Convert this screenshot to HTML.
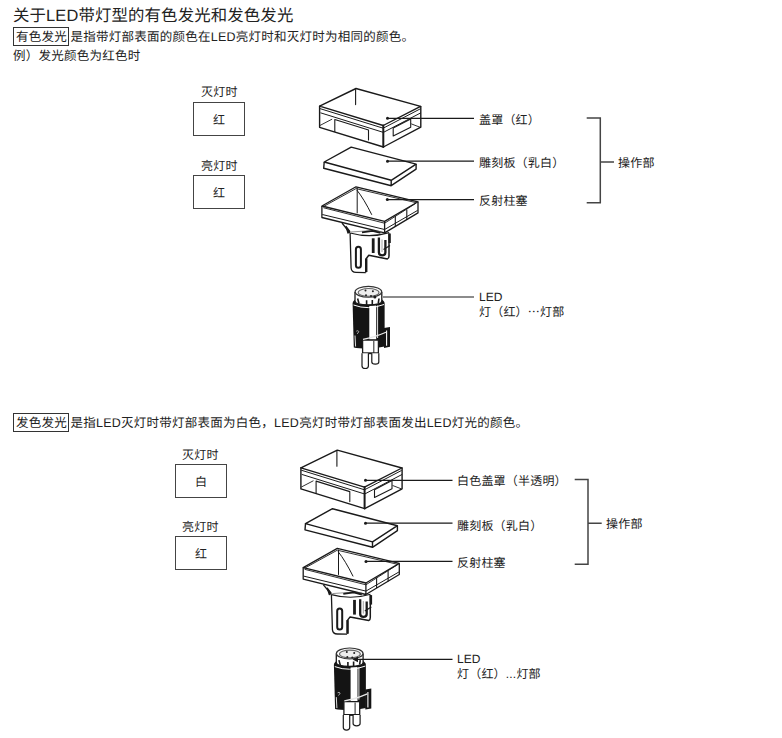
<!DOCTYPE html>
<html lang="zh-CN">
<head>
<meta charset="utf-8">
<style>
html,body{margin:0;padding:0;background:#fff;}
body{text-rendering:geometricPrecision;width:782px;height:738px;position:relative;overflow:hidden;font-family:"Liberation Sans",sans-serif;color:#222;}
.t{position:absolute;white-space:nowrap;line-height:1;}
.lb{letter-spacing:0.2px;}
.kb{border:1px solid #333;padding:2px 1px 1px 2px;margin-right:1.5px;}
.bx{position:absolute;border:1.3px solid #444;box-sizing:border-box;}
</style>
</head>
<body>
<div class="t" id="title" style="left:13px;top:8px;font-size:16.4px;letter-spacing:0.15px;">关于LED带灯型的有色发光和发色发光</div>
<div class="t" id="l2" style="left:13px;top:31px;font-size:12.5px;letter-spacing:0.25px;"><span class="kb">有色发光</span>是指带灯部表面的颜色在LED亮灯时和灭灯时为相同的颜色。</div>
<div class="t" id="l3" style="left:13px;top:50px;font-size:12.5px;letter-spacing:0.25px;">例）发光颜色为红色时</div>

<div class="t lb" style="left:201px;top:86px;font-size:12px;">灭灯时</div>
<div class="bx" style="left:193px;top:102px;width:52px;height:34px;"></div>
<div class="t" style="left:213px;top:114px;font-size:12px;">红</div>
<div class="t lb" style="left:201px;top:160px;font-size:12px;">亮灯时</div>
<div class="bx" style="left:193px;top:175px;width:52px;height:34px;"></div>
<div class="t" style="left:213px;top:187px;font-size:12px;">红</div>

<div class="t lb" style="left:479px;top:114px;font-size:12px;">盖罩（红）</div>
<div class="t lb" style="left:479px;top:157px;font-size:12px;">雕刻板（乳白）</div>
<div class="t lb" style="left:479px;top:195px;font-size:12px;">反射柱塞</div>
<div class="t lb" style="left:618px;top:157px;font-size:12px;">操作部</div>
<div class="t" style="left:479px;top:291px;font-size:12px;">LED</div>
<div class="t lb" style="left:479px;top:306px;font-size:12px;">灯（红）⋯灯部</div>

<div class="t" id="l4" style="left:13px;top:417px;font-size:12.5px;letter-spacing:0.25px;"><span class="kb">发色发光</span>是指LED灭灯时带灯部表面为白色，LED亮灯时带灯部表面发出LED灯光的颜色。</div>

<div class="t lb" style="left:182px;top:449px;font-size:12px;">灭灯时</div>
<div class="bx" style="left:175px;top:464px;width:52px;height:34px;"></div>
<div class="t" style="left:195px;top:476px;font-size:12px;">白</div>
<div class="t lb" style="left:182px;top:521px;font-size:12px;">亮灯时</div>
<div class="bx" style="left:175px;top:536px;width:52px;height:34px;"></div>
<div class="t" style="left:195px;top:548px;font-size:12px;">红</div>

<div class="t lb" style="left:457px;top:475px;font-size:12px;">白色盖罩（半透明）</div>
<div class="t lb" style="left:457px;top:520px;font-size:12px;">雕刻板（乳白）</div>
<div class="t lb" style="left:457px;top:557px;font-size:12px;">反射柱塞</div>
<div class="t lb" style="left:606px;top:518px;font-size:12px;">操作部</div>
<div class="t" style="left:457px;top:653px;font-size:12px;">LED</div>
<div class="t lb" style="left:457px;top:668px;font-size:12px;">灯（红）...灯部</div>

<svg width="782" height="738" style="position:absolute;left:0;top:0;" id="svg">
<defs>
<g id="dwg">
<!-- COVER -->
<g fill="none" stroke="#1a1a1a" stroke-width="1.4" stroke-linejoin="round" stroke-linecap="round">
<path d="M319.6 106.2L356 88.5L420.6 106.4L383.2 125.5Z" fill="#fff"/>
<path d="M319.6 106.2V127.3L383.4 147L420.8 127.2V106.4"/>
<path d="M383.3 125.5V147" stroke-width="2"/>
<path d="M320.3 108.7L383.2 128.2L420 109" stroke-width="1"/>
<path d="M320.8 112.9L383.4 132.4L420.5 113" stroke-width="1"/>
<path d="M355.6 89.5V104.6" stroke-width="1.1"/>
<path d="M334.8 119.5V131.5M334.8 119.5L368.5 130V140" stroke-width="1.1"/>
<path d="M320.3 125.3L331.8 119.3" stroke-width="0.9"/>
<path d="M393.2 128.1L410.7 118.9V127.2L393.2 135.9Z" stroke-width="1.1"/>
<path d="M411.6 124L419.9 127.2" stroke-width="0.9"/>
</g>
<!-- PLATE -->
<g fill="none" stroke="#1a1a1a" stroke-width="1.4" stroke-linejoin="round">
<path d="M324.2 162L351.2 147.1L416.1 164.1L391.2 180.3Z" fill="#fff"/>
<path d="M324.2 162L323.7 168.3L391.2 185.7L416.1 169.1V164.1M391.2 180.3V185.7"/>
</g>
<!-- REFLECTOR -->
<g fill="none" stroke="#1a1a1a" stroke-width="1.3" stroke-linejoin="round">
<path d="M321.9 206L356 186.8L418 201.8L384.6 221.4Z"/>
<path d="M323.5 206.5L356 188.6L415.8 202.6" stroke-width="0.9"/>
<path d="M323.3 207.7L384.6 223.2L416 203.2" stroke-width="0.9"/>
<path d="M321.9 206V217.5L384.6 232.9L418 212.9V201.8M384.6 221.4V232.9"/>
<path d="M322.3 214.5L384.6 229.5L417.6 210.4" stroke-width="1"/>
<path d="M395.3 216V226.5M406.8 209.5V220" stroke-width="1.1"/>
<path d="M357.2 188V213.3" stroke-width="1"/>
<path d="M356.8 190Q364 199 371.8 214.8" stroke-width="1"/>
</g>
<!-- STEM -->
<g fill="none" stroke="#1a1a1a" stroke-width="1.3" stroke-linejoin="round">
<path d="M342 223L349.8 232.8"/>
<path d="M346 226.5L349.8 231.5L348 233Z" fill="#1a1a1a"/>
<path d="M350.1 233Q370 238.5 389.2 232.6" stroke-width="1.2"/>
<path d="M351 232Q368 230 381 231.5" stroke-width="0.7" stroke="#666"/>
<path d="M350.1 233L351.1 268Q351.5 272.3 356 272.4L365.8 272.6"/>
<path d="M366.3 272.2V258.5L368.8 255.3L387.5 258.9Q389 258.5 389 256V233.5" stroke-width="1.5"/>
<path d="M366.2 272V258.5" stroke-width="2.4"/>
<rect x="355.9" y="246.8" width="5" height="21" rx="2.5" stroke-width="2"/>
<path d="M373.2 238.3V253" stroke-width="2.8"/>
<path d="M385.4 240V252.5Q385.4 255.3 382.2 255.3Q378.9 255.3 378.9 252.5V237.6" stroke-width="2.3"/><path d="M382 239.5V252" stroke="#999" stroke-width="0.9"/>
<path d="M389.6 233.5V243" stroke-width="2.4"/>
<path d="M383.5 249.5L390 245.5" stroke-width="1.2"/>
<path d="M362 232.3L372.5 230.8L380.5 233" stroke-width="1.8"/>
</g>
<!-- LED -->
<g stroke-linejoin="round">
<path d="M352.6 303.5Q352.6 297.5 368.5 297.5Q384.6 297.5 384.6 303.5V346.5Q376 348.5 368 348.5Q358 348.5 353.8 347.5Z" fill="#141414"/>
<path d="M369.3 306V339.8H376.2V305.5Z" fill="#fff"/>
<path d="M377.6 305.5V338" stroke="#fff" stroke-width="0.9" fill="none"/>
<path d="M384 328L390 327V346.8L384 348Z" fill="#141414"/>
<path d="M386.6 330.5V345.8" stroke="#fff" stroke-width="1.1" fill="none"/>
<path d="M355 292V301Q355 304.8 368.4 304.8Q381.8 304.8 381.8 301V292" fill="#fff" stroke="#1a1a1a" stroke-width="1.3"/>
<path d="M357.6 298.5L359 303.5M366.6 300.3V305M372.3 300V305M379 298.5L378.3 303" stroke="#1a1a1a" stroke-width="1.6" fill="none"/>
<ellipse cx="368.4" cy="291.8" rx="13.3" ry="5.4" fill="#fff" stroke="#333" stroke-width="1.2"/>
<ellipse cx="368.6" cy="292.4" rx="10.4" ry="3.9" fill="#eee" stroke="#666" stroke-width="1.1"/>
<g fill="#222"><circle cx="365.5" cy="290.4" r="1"/><circle cx="372.9" cy="291.3" r="1"/><circle cx="366" cy="295.3" r="1"/><circle cx="371" cy="296" r="1"/></g>
<path d="M353.5 305Q368 310.5 384 304.5" fill="none" stroke="#fff" stroke-width="1"/>
<path d="M362.6 340H378.4V353.3H362.6Z" fill="#fff" stroke="#1a1a1a" stroke-width="1.3"/>
<path d="M373.8 341V353" stroke="#333" stroke-width="1.1" fill="none"/>
<path d="M362.5 353.3H378.5" stroke="#1a1a1a" stroke-width="1.8" fill="none"/>
<path d="M362 353.3V366Q362 368.5 365.2 368.5Q368.4 368.5 368.4 366V353.3" fill="#fff" stroke="#1a1a1a" stroke-width="1.2"/>
<path d="M371.8 353.3V362Q371.8 364.2 375.3 364.2Q378.8 364.2 378.8 362V353.3" fill="#fff" stroke="#1a1a1a" stroke-width="1.2"/>
<path d="M356.3 331.2Q358 330 358.8 331.5Q358.5 333 357 333.8" fill="none" stroke="#bbb" stroke-width="0.9"/>
<path d="M355 335.5L355.6 346.5" fill="none" stroke="#ddd" stroke-width="1"/>
<path d="M363 339.3Q374 337.5 386 332.3" fill="none" stroke="#e8e8e8" stroke-width="1.2"/>
</g>
</g>
</defs>
<use href="#dwg"/>
<use href="#dwg" transform="translate(-18.7,361.6)"/>
<g stroke="#1a1a1a" stroke-width="1.2" fill="none">
<path d="M387.5 118.3H474M387.5 161.2H474M387.3 199.6H474M383 297H474"/>
<path d="M365.5 480.3H452.5M365.5 523.2H452.5M366 561.4H452.5M358 659.3H452.5"/>
</g>
<g fill="#1a1a1a"><circle cx="387.5" cy="118.3" r="1.5"/><circle cx="387.5" cy="161.2" r="1.5"/><circle cx="387.3" cy="199.6" r="1.5"/><circle cx="374.9" cy="297" r="1.5"/>
<circle cx="365.5" cy="480.3" r="1.5"/><circle cx="365.5" cy="523.2" r="1.5"/><circle cx="366" cy="561.4" r="1.5"/><path d="M352.5 659.4L358 656.5V662.3Z"/></g>
<g stroke="#444" stroke-width="1.5" fill="none">
<path d="M586.7 118H600.3V202.8H586.7M600.3 162H614"/>
<path d="M574.7 479.5H588V564.2H574.7M588 523.3H601.7"/>
</g>
</svg>
</body>
</html>
